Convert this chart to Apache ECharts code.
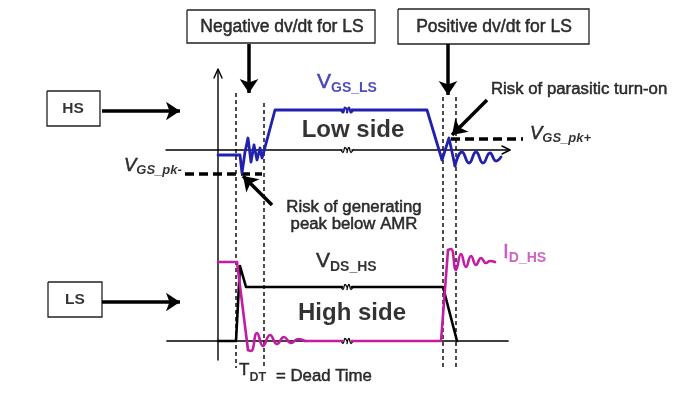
<!DOCTYPE html>
<html><head><meta charset="utf-8">
<script src="https://cdn.jsdelivr.net/npm/echarts@6/dist/echarts.min.js"></script>
<style>html,body{margin:0;padding:0;background:#fff}#c{width:698px;height:395px}</style>
</head><body><div id="c"></div>
<script>
// ---- waveform data (diagram units = picture pixels) ----
const vgsLsA = [[218,155],[240,155],[242,173],[245,152],[248,138],[251,162],[254,145],[257,160],[260,148],[262,158],[264,151],[275,110],[342,110]];
const vgsLsB = [[352,110],[427,110],[442,160],[449,138],[455,166]];
const vgsLsRing = [[455,166],[462,152],[469,163],[476,152],[483,163],[490,153],[496,161],[501,157]];
const vdsHsA = [[218,341],[236,341],[240,266],[242,266],[246,287],[342,287]];
const vdsHsB = [[352,287],[443,287],[457,341]];
const idHsA = [[218,262],[237,262],[248,350]];
const idHsRing = [[248,350],[251,351],[257,333],[263,346],[270,335],[277,344],[284,337],[291,343],[298,339],[305,341]];
const idHsB = [[305,341],[342,341]];
const idHsC = [[352,341],[441,341],[448,250]];
const idHsRing2 = [[448,250],[451,249],[456,270],[461,254],[466,267],[471,256],[476,265],[481,258],[486,263],[490,261],[495,262]];
const upperAxis = [[[166,150],[342,150]],[[352,150],[510,150]]];
const lowerAxis = [[[167,341],[342,341]],[[352,341],[508,341]]];
const vertAxis = [[218,70],[218,360]];
const deadTimeLines = [236,264,443,456];
const deadTimeTops = [93,103,97,97];
const deadTimeBottom = 368;
const pkMinus = [[185,174],[262,174]];
const pkPlus = [[451,139],[523,139]];
const breaks = [[347,110,'blue'],[347,150,'axis'],[347,287,'axis'],[347,341,'axis']];
const boxes = [[187,10,375,43],[398,9,589,44],[47,91,100,126],[48,282,102,317]];
const arrows = [[[102,111],[180,111]],[[102,302],[180,302]],[[249,44],[249,93]],[[448,44],[448,95]],[[487,100],[452,135]],[[272,205],[243,176]]];
const boxTexts = [['Negative dv/dt for LS',282,27],['Positive dv/dt for LS',494,27]];
const sideTexts = [['HS',73,109],['LS',75,300]];
const bigTexts = [['Low side',353,130],['High side',352,313]];
const noteTexts = [['Risk of generating',354,207],['peak below AMR',354,224]];
const noteTextsL = [['Risk of parasitic turn-on',491,89],['= Dead Time',276,376]];
const subTexts = [
  {main:'V',sub:'GS_LS',x:317,y:88,c:'blue',big:21,small:14},
  {main:'V',sub:'DS_HS',x:316,y:267,c:'black',big:21,small:14},
  {main:'I',sub:'D_HS',x:503,y:258,c:'pink',big:21,small:14},
  {main:'T',sub:'DT',x:239,y:378,c:'black',big:17,small:12.5}
];
const italicSubTexts = [
  {main:'V',sub:'GS_pk-',x:124,y:170},
  {main:'V',sub:'GS_pk+',x:530,y:138}
];

// ---- styles ----
const BLUE = '#2121ad', PINK = '#c31ca2', PINKT = '#c23ab5', BLACK = '#000';
const FONT = '"Liberation Sans", Arial, sans-serif';
const series = [];
function line(data, color, width, extra) {
  series.push(Object.assign({type:'line', data, symbol:'none', showSymbol:false, silent:true, animation:false,
    lineStyle:{color, width, cap:'round', join:'round'}, z:3}, extra||{}));
}
// axes
upperAxis.forEach(d => line(d, BLACK, 1.4));
lowerAxis.forEach(d => line(d, BLACK, 1.7));
line(vertAxis, BLACK, 1.4);
line([[214,78],[218,69],[222,78]], BLACK, 1.4);
line([[502,146],[510,150],[502,154]], BLACK, 1.4);
// breaks
breaks.forEach(([x,y,k]) => {
  const col = k==='blue'?BLUE:BLACK, w = k==='blue'?2.2:1.3;
  line([[x-6,y],[x-4,y+2.5],[x-2,y-2.5],[x,y]], col, w, {smooth:0.5});
  line([[x,y+2.5],[x+2,y-2.5],[x+4,y+2.5],[x+6,y]], col, w, {smooth:0.5});
});
// dead-time dotted lines
deadTimeLines.forEach((x,i) => line([[x,deadTimeTops[i]],[x,deadTimeBottom]], BLACK, 1.4, {lineStyle:{color:BLACK,width:1.4,type:[4,3]}}));
// pk dashed lines
line(pkMinus, BLACK, 3.5, {lineStyle:{color:BLACK,width:3.5,type:[9,5]}});
line(pkPlus, BLACK, 3.5, {lineStyle:{color:BLACK,width:3.5,type:[9,5]}});
// boxes
boxes.forEach(([x0,y0,x1,y1]) => line([[x0,y0],[x1,y0],[x1,y1],[x0,y1],[x0,y0]], BLACK, 1.3, {lineStyle:{color:'#222',width:1.3,join:'miter'}}));
// waveforms
line(vdsHsA, BLACK, 2.6); line(vdsHsB, BLACK, 2.6);
line(idHsA, PINK, 2.6); line(idHsRing, PINK, 2.6, {smooth:0.5}); line(idHsB, PINK, 2.6);
line(idHsC, PINK, 2.6); line(idHsRing2, PINK, 2.6, {smooth:0.5});
line(vgsLsA, BLUE, 2.8); line(vgsLsB, BLUE, 2.8); line(vgsLsRing, BLUE, 2.8, {smooth:0.5});
// arrows
series.push({type:'lines', coordinateSystem:'cartesian2d', silent:true, animation:false, z:4,
  symbol:['none','arrow'], symbolSize:[11,14],
  lineStyle:{color:BLACK, width:3.5, opacity:1},
  data: arrows.map(c => ({coords:c}))});
// texts
function texts(list, label) {
  series.push({type:'scatter', symbolSize:0, silent:true, animation:false, z:6,
    data: list.map(t => ({value:[t[1],t[2]], t:t[0]})),
    label: Object.assign({show:true, position:'inside', formatter:p=>p.data.t, fontFamily:FONT, color:BLACK,
      textBorderColor:BLACK, textBorderWidth:0.5}, label)});
}
texts(boxTexts, {fontSize:17.5});
texts(sideTexts, {fontSize:15.5, fontWeight:'bold', textBorderWidth:0});
texts(bigTexts, {fontSize:24, fontWeight:'bold', textBorderWidth:0});
texts(noteTexts, {fontSize:16.8});
texts(noteTextsL, {fontSize:16.8, align:'left'});
const colMap = {blue:BLUE, black:BLACK, pink:PINKT};
series.push({type:'scatter', symbolSize:0, silent:true, animation:false, z:6,
  data: subTexts.map(t => ({value:[t.x,t.y], m:t.main, s:t.sub,
    label:{rich:{m:{fontSize:t.big,lineHeight:20,verticalAlign:'top',color:colMap[t.c],fontFamily:FONT,textBorderColor:colMap[t.c],textBorderWidth:0.5},
                 s:{fontSize:t.small,lineHeight:32,fontWeight:'bold',color:colMap[t.c],fontFamily:FONT}}}})),
  label:{show:true, position:'inside', align:'left', formatter:p=>'{m|'+p.data.m+'}{s|'+p.data.s+'}'}});
series.push({type:'scatter', symbolSize:0, silent:true, animation:false, z:6,
  data: italicSubTexts.map(t => ({value:[t.x,t.y], m:t.main, s:t.sub})),
  label:{show:true, position:'inside', align:'left', formatter:p=>'{m|'+p.data.m+'}{s|'+p.data.s+'}',
    rich:{m:{fontSize:18.5,lineHeight:18,verticalAlign:'top',fontStyle:'italic',color:BLACK,fontFamily:FONT,textBorderColor:BLACK,textBorderWidth:0.5},
          s:{fontSize:13,lineHeight:28,fontStyle:'italic',fontWeight:'bold',color:BLACK,fontFamily:FONT}}}});

const chart = echarts.init(document.getElementById('c'), null, {renderer:'canvas'});
chart.setOption({
  backgroundColor:'#ffffff', animation:false,
  grid:{left:0,right:0,top:0,bottom:0},
  xAxis:{type:'value', min:0, max:698, show:false},
  yAxis:{type:'value', min:0, max:395, inverse:true, show:false},
  series
});
</script></body></html>
